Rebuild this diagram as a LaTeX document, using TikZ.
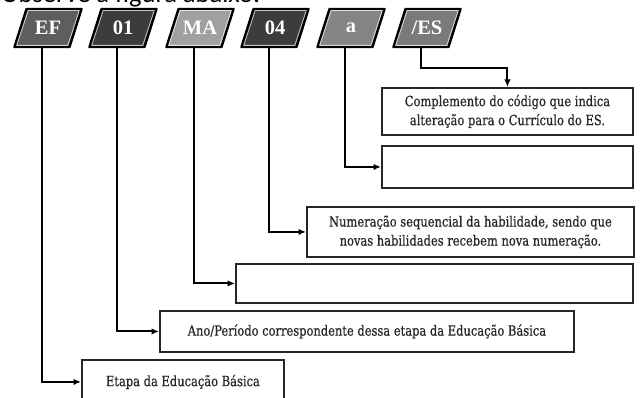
\documentclass[tikz,border=0pt]{standalone}
\usepackage{fontspec}
\setmainfont{Liberation Serif}
\newfontfamily\boxfont[FakeStretch=0.82,FakeBold=0.6]{DejaVu Serif}
\newfontfamily\titlefont{Carlito}
\usetikzlibrary{arrows.meta}
\definecolor{tagA}{HTML}{5E5E5E}
\definecolor{tagB}{HTML}{3C3C3C}
\definecolor{tagC}{HTML}{A0A0A0}
\definecolor{tagD}{HTML}{858585}
\definecolor{tagE}{HTML}{7A7A7A}
\definecolor{ink}{HTML}{262626}
\newcommand\codetag[4]{%
  \filldraw[fill=#3, draw=black, line width=2.4pt, line join=round]
    (#2-27.5,47) -- (#2+27.5,47) -- (#2+39.5,9) -- (#2-15.5,9) -- cycle;
  \draw[white!70!#3, line width=0.8pt, line join=round]
    (#2-25.3,45.4) -- (#2+25.8,45.4) -- (#2+37.2,10.6) -- (#2-13.8,10.6) -- cycle;
  \node[tagtext] (#1) at (#2+6,28) {#4};
  \coordinate (#1-b) at (#2,47);}
\begin{document}
\begin{tikzpicture}[x=1pt,y=-1pt,
  tagtext/.style={minimum width=55pt, minimum height=38pt, inner sep=0pt, text=white,
    font=\fontsize{20.5}{20.5}\selectfont\bfseries},
  infobox/.style={draw=ink, line width=1.9pt, inner sep=0pt, anchor=north west, align=center,
    text=ink, font=\boxfont\fontsize{14}{19}\selectfont},
  conn/.style={draw=black, line width=2pt, -{Latex[length=7.5pt,width=6.5pt]}}]
\useasboundingbox (0,0) rectangle (640,398);

\node[anchor=base west, inner sep=0pt, font=\titlefont\fontsize{26.5}{26.5}\selectfont] (title) at (1,2.7) {Observe a figura abaixo:};

\codetag{ef}{42}{tagA}{EF}
\codetag{ano}{117}{tagB}{01}
\codetag{ma}{194}{tagC}{MA}
\codetag{hab}{269}{tagB}{04}
\codetag{let}{345}{tagD}{a}
\codetag{es}{421}{tagE}{/ES}

\node[infobox, minimum width=251pt, minimum height=47pt] (bcomp) at (381,87)
  {Complemento do código que indica\\alteração para o Currículo do ES.};
\node[infobox, minimum width=251pt, minimum height=42pt] (blet) at (381,145) {};
\node[infobox, minimum width=327pt, minimum height=50pt] (bhab) at (306,206)
  {Numeração sequencial da habilidade, sendo que\\novas habilidades recebem nova numeração.};
\node[infobox, minimum width=397pt, minimum height=39pt] (bma) at (235,263) {};
\node[infobox, minimum width=414pt, minimum height=41pt] (bano) at (159,310)
  {Ano/Período correspondente dessa etapa da Educação Básica};
\node[infobox, minimum width=202pt, minimum height=44pt] (bef) at (81,359)
  {Etapa da Educação Básica};

\draw[conn] (es-b) -- ++(0,21) -| (bcomp.north);
\draw[conn] (let-b) |- (blet.west);
\draw[conn] (hab-b) |- (bhab.west);
\draw[conn] (ma-b) |- (bma.west);
\draw[conn] (ano-b) |- (bano.west);
\draw[conn] (ef-b) |- (bef.west);
\end{tikzpicture}
\end{document}
